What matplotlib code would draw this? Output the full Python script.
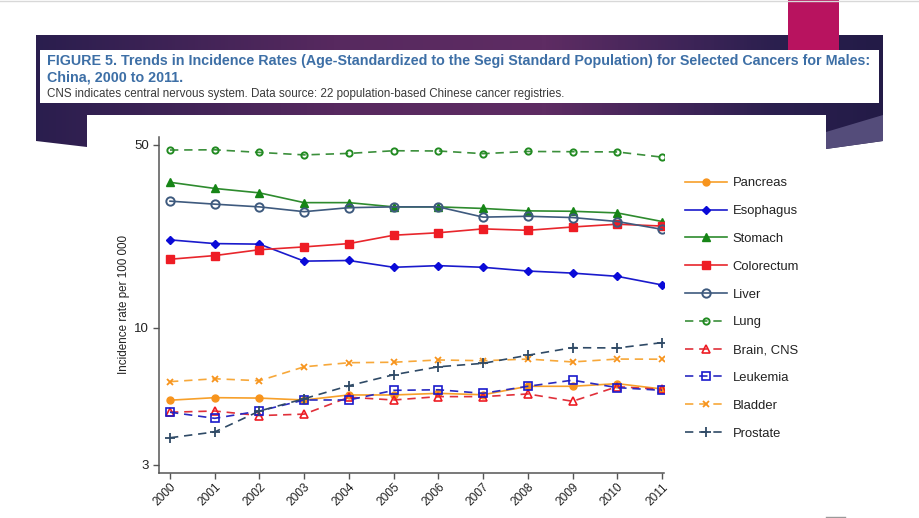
import numpy as np
import matplotlib
matplotlib.use("Agg")
import matplotlib.pyplot as plt
from matplotlib.colors import LinearSegmentedColormap
from matplotlib.patches import Polygon, Rectangle

years = list(range(2000, 2012))
pancreas   = [5.30, 5.42, 5.40, 5.31, 5.55, 5.55, 5.63, 5.56, 5.99, 5.99, 6.13, 5.85]
esophagus  = [21.7, 21.0, 20.9, 18.0, 18.1, 17.05, 17.3, 17.05, 16.5, 16.2, 15.75, 14.6]
stomach    = [36.0, 34.1, 32.8, 30.1, 30.1, 29.0, 29.0, 28.6, 28.0, 27.9, 27.5, 25.5]
colorectum = [18.3, 18.9, 19.9, 20.4, 21.0, 22.6, 23.1, 23.9, 23.6, 24.3, 24.9, 24.5]
liver      = [30.5, 29.7, 29.0, 27.8, 28.8, 29.0, 29.0, 26.5, 26.7, 26.4, 25.5, 23.8]
lung       = [47.8, 47.9, 46.8, 45.8, 46.4, 47.5, 47.4, 46.3, 47.2, 47.1, 47.0, 44.9]
brain_cns  = [4.77, 4.82, 4.63, 4.69, 5.44, 5.31, 5.47, 5.47, 5.60, 5.25, 5.97, 5.83]
leukemia   = [4.77, 4.52, 4.82, 5.31, 5.31, 5.78, 5.81, 5.63, 5.99, 6.32, 5.92, 5.78]
bladder    = [6.24, 6.40, 6.29, 7.11, 7.37, 7.40, 7.55, 7.50, 7.61, 7.42, 7.61, 7.60]
prostate   = [3.81, 4.01, 4.82, 5.37, 6.02, 6.63, 7.11, 7.33, 7.87, 8.41, 8.39, 8.79]

y_ticks = [3, 10, 50]
y_tick_labels = ["3", "10", "50"]

title_line1 = "FIGURE 5. Trends in Incidence Rates (Age-Standardized to the Segi Standard Population) for Selected Cancers for Males:"
title_line2 = "China, 2000 to 2011."
subtitle = "CNS indicates central nervous system. Data source: 22 population-based Chinese cancer registries."
ylabel = "Incidence rate per 100 000"

plt.rcParams['font.family'] = ['Liberation Sans', 'DejaVu Sans']

W, H = 920, 518
fig = plt.figure(figsize=(W / 100, H / 100), dpi=100)
fig.patch.set_facecolor("white")

# background / slide decoration in pixel coordinates
bg = fig.add_axes([0, 0, 1, 1])
bg.set_xlim(0, W)
bg.set_ylim(H, 0)
bg.axis("off")

cmap = LinearSegmentedColormap.from_list(
    "banner",
    [(0.0, "#2a1e4e"), (0.35, "#57295f"), (0.6, "#5e2c63"),
     (0.78, "#3c2457"), (0.88, "#2a1f4e"), (1.0, "#231b47")])
grad = np.linspace(0, 1, 256).reshape(1, -1)
im = bg.imshow(grad, cmap=cmap, extent=[36, 883, 150, 35], aspect="auto", zorder=1)
banner_poly = Polygon([(36, 35), (883, 35), (883, 141), (826, 149), (826, 115),
                       (87, 115), (87, 147), (36, 141)], closed=True,
                      transform=bg.transData, facecolor="none", edgecolor="none")
bg.add_patch(banner_poly)
im.set_clip_path(banner_poly)
bg.add_patch(Polygon([(826, 132), (883, 115), (883, 141), (826, 149)], closed=True,
                     facecolor="#544c7a", edgecolor="none", zorder=2))
bg.add_patch(Rectangle((788, 0), 51, 52, facecolor="#b8135f", edgecolor="none", zorder=3))
bg.add_patch(Rectangle((40, 50), 839, 53, facecolor="white", edgecolor="none", zorder=4))
bg.plot([0, W], [0.5, 0.5], color="#d8d8d8", lw=1, zorder=5)
bg.plot([826, 845], [517, 517], color="#9a9a9a", lw=1, zorder=5)

bg.text(47, 61, title_line1, fontsize=10.3, fontweight="bold", color="#3d6fa6",
        ha="left", va="center", zorder=6)
bg.text(47, 78, title_line2, fontsize=10.3, fontweight="bold", color="#3d6fa6",
        ha="left", va="center", zorder=6)
bg.text(47, 94, subtitle, fontsize=8.4, color="#3a3a3a", ha="left", va="center", zorder=6)

# chart
ax = fig.add_axes([159 / W, 1 - 473 / H, (664 - 159) / W, (473 - 137) / H])
ax.set_facecolor("none")
ax.set_yscale("log")
ax.set_xlim(1999.754, 2011.045)
ax.set_ylim(2.795, 53.6)

series = [
    ("Pancreas", pancreas, dict(color="#f7a02a", ls="-", marker="o", ms=5, mfc="#f7941d", mec="#f7941d")),
    ("Esophagus", esophagus, dict(color="#1a1acc", ls="-", marker="D", ms=4.5, mfc="#0a0ad8", mec="#0a0ad8")),
    ("Stomach", stomach, dict(color="#2e8b2e", ls="-", marker="^", ms=6, mfc="#168516", mec="#168516")),
    ("Colorectum", colorectum, dict(color="#e8262c", ls="-", marker="s", ms=5.5, mfc="#ee1c24", mec="#ee1c24")),
    ("Liver", liver, dict(color="#3e5a7e", ls="-", marker="o", ms=6, mfc="none", mec="#3e5a7e", mew=1.4)),
    ("Lung", lung, dict(color="#3b8f3b", ls=(0, (5, 3.5)), marker="o", ms=4.5, mfc="none", mec="#228b22", mew=1.4)),
    ("Brain, CNS", brain_cns, dict(color="#e0303a", ls=(0, (5, 3.5)), marker="^", ms=6, mfc="none", mec="#ee1c24", mew=1.2)),
    ("Leukemia", leukemia, dict(color="#2a2ac0", ls=(0, (5, 3.5)), marker="s", ms=5.5, mfc="none", mec="#1a1acc", mew=1.2)),
    ("Bladder", bladder, dict(color="#f7a83a", ls=(0, (5, 3.5)), marker="x", ms=5, mfc="none", mec="#f7941d", mew=1.3)),
    ("Prostate", prostate, dict(color="#2f4a66", ls=(0, (5, 3.5)), marker="+", ms=7, mfc="none", mec="#2f4a66", mew=1.3)),
]

handles = []
for name, vals, st in series:
    h, = ax.plot(years, vals, lw=1.2, label=name, **st)
    handles.append(h)

for s in ["top", "right"]:
    ax.spines[s].set_visible(False)
for s in ["left", "bottom"]:
    ax.spines[s].set_color("#555555")
    ax.spines[s].set_linewidth(1.1)

ax.set_yticks(y_ticks)
ax.set_yticklabels(y_tick_labels)
ax.yaxis.set_minor_locator(matplotlib.ticker.NullLocator())
ax.set_xticks(years)
ax.set_xticklabels([str(y) for y in years], rotation=45, ha="right", va="top",
                   rotation_mode="anchor")
ax.tick_params(axis="both", length=4, width=1, color="#555555", labelsize=9.5,
               labelcolor="#222222", pad=3)
ax.tick_params(axis="x", labelsize=8.6, pad=2)
ax.set_ylabel(ylabel, fontsize=8.4, color="#222222", labelpad=3)

leg = fig.legend(handles=handles, loc="upper left", bbox_to_anchor=(680 / W, 1 - 172 / H),
                 frameon=False, fontsize=9.4, handlelength=3.2, handletextpad=0.45,
                 labelspacing=1.2, borderaxespad=0)
for t in leg.get_texts():
    t.set_color("#222222")

fig.savefig("out.png", dpi=100, facecolor="white")
